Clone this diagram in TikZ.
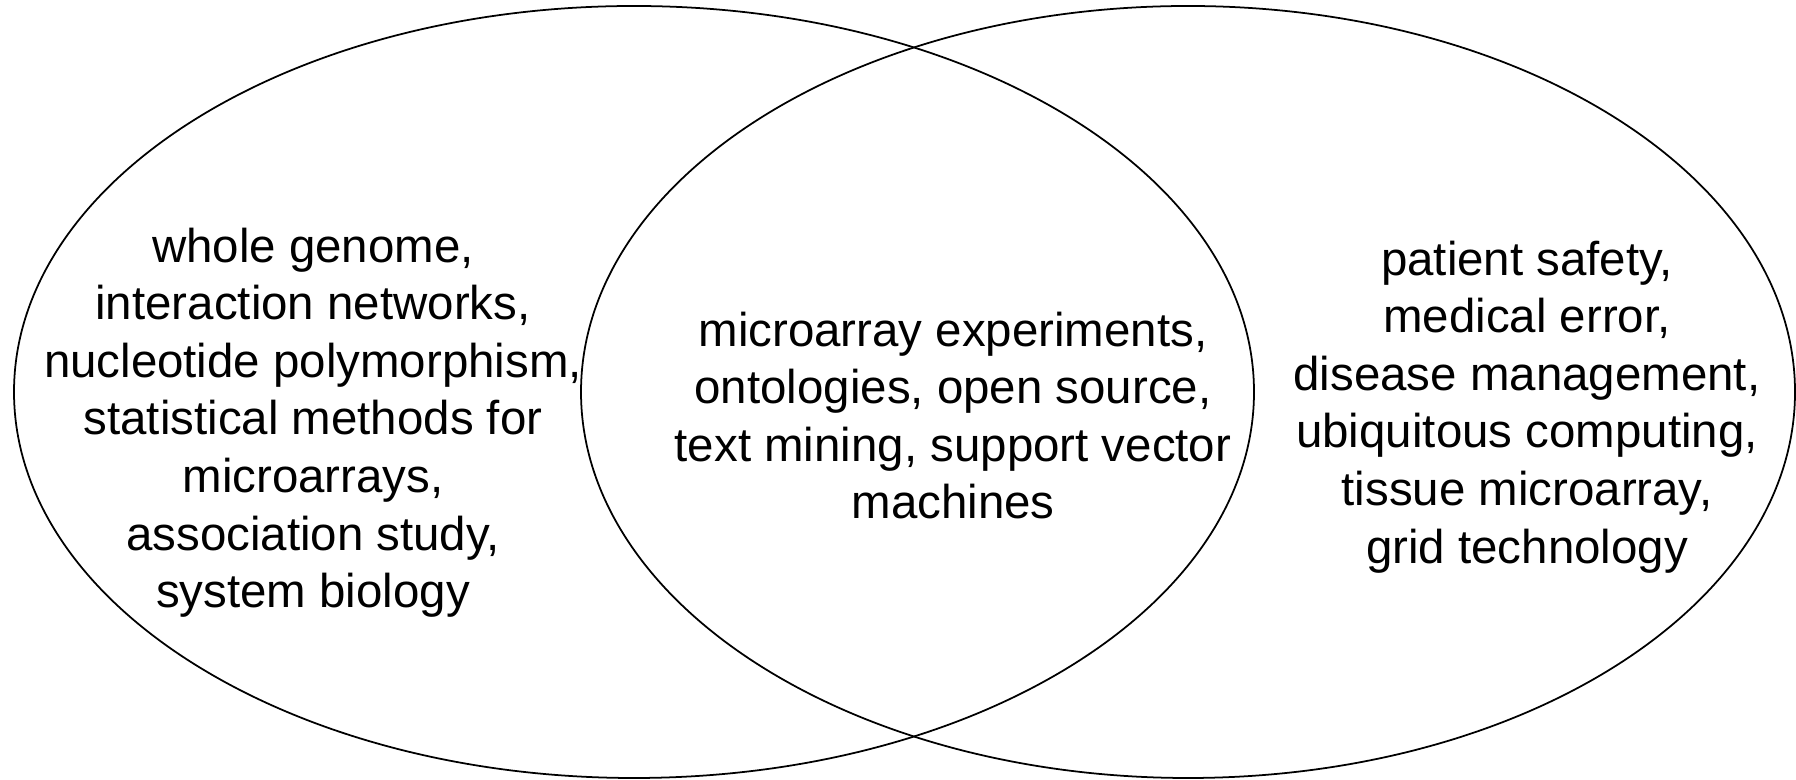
\documentclass[tikz,border=0pt]{standalone}
\usepackage{fontspec}
\setmainfont{Liberation Sans}
\usepackage{xcolor}
\usepackage{tikz}
\usetikzlibrary{positioning}
\definecolor{VInk}{HTML}{000000}

\begin{document}
\begin{tikzpicture}[every node/.style={align=center, inner sep=0pt, anchor=north, text=VInk, font=\fontsize{13.5}{16.4}\selectfont}]
  \useasboundingbox (0,0) rectangle (17.96,7.80);

  % the two sets
  \draw[draw=VInk, line width=0.5pt] (6.34,3.88) ellipse [x radius=6.20, y radius=3.86];
  \draw[draw=VInk, line width=0.5pt] (11.88,3.88) ellipse [x radius=6.07, y radius=3.86];

  % left only
  \node (bio) at (3.13,5.53) {whole genome,\\ interaction networks,\\ nucleotide polymorphism,\\ statistical methods for\\ microarrays,\\ association study,\\ system biology};

  % overlap
  \node (both) at (9.53,4.69) {microarray experiments,\\ ontologies, open source,\\ text mining, support vector\\ machines};

  % right only
  \node (med) at (15.27,5.40) {patient safety,\\ medical error,\\ disease management,\\ ubiquitous computing,\\ tissue microarray,\\ grid technology};
\end{tikzpicture}
\end{document}
